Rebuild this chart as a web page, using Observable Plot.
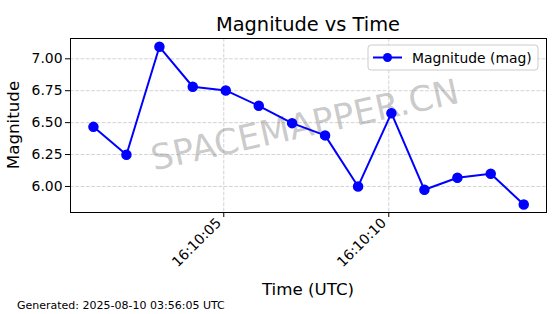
<!DOCTYPE html>
<html><head><meta charset="utf-8">
<script src="https://cdn.jsdelivr.net/npm/d3@7"></script>
<script src="https://cdn.jsdelivr.net/npm/@observablehq/plot@0.6"></script>
<style>body{margin:0;background:#fff}svg{display:block}</style>
</head><body><div id="chart"></div>
<script>
const times = ["2025-08-10T16:10:01.05Z","2025-08-10T16:10:02.05Z","2025-08-10T16:10:03.05Z","2025-08-10T16:10:04.06Z","2025-08-10T16:10:05.06Z","2025-08-10T16:10:06.06Z","2025-08-10T16:10:07.07Z","2025-08-10T16:10:08.07Z","2025-08-10T16:10:09.07Z","2025-08-10T16:10:10.08Z","2025-08-10T16:10:11.08Z","2025-08-10T16:10:12.08Z","2025-08-10T16:10:13.09Z","2025-08-10T16:10:14.09Z"];
const magnitudes = [6.467, 6.248, 7.094, 6.781, 6.752, 6.632, 6.496, 6.400, 6.000, 6.574, 5.974, 6.068, 6.099, 5.859];
const xTicks = ["2025-08-10T16:10:05Z","2025-08-10T16:10:10Z"];
const yTicks = [6.00, 6.25, 6.50, 6.75, 7.00];
const xDomain = ["2025-08-10T16:10:00.355Z","2025-08-10T16:10:14.78Z"];
const yDomain = [5.796, 7.159];
const titleText = "Magnitude vs Time";
const xLabel = "Time (UTC)";
const yLabel = "Magnitude";
const legendLabel = "Magnitude (mag)";
const watermark = "SPACEMAPPER.CN";
const footer = "Generated: 2025-08-10 03:56:05 UTC";

const data = times.map((t, i) => ({time: new Date(t), mag: magnitudes[i]}));
const xTickDates = xTicks.map(d => new Date(d));
const font = "DejaVu Sans";

const chart = Plot.plot({
  width: 560, height: 314,
  marginLeft: 70, marginRight: 14, marginTop: 38, marginBottom: 102,
  style: {fontFamily: font, background: "white", overflow: "visible"},
  x: {type: "utc", domain: xDomain.map(d => new Date(d))},
  y: {domain: yDomain},
  marks: [
    Plot.gridX(xTickDates, {stroke: "#b0b0b0", strokeOpacity: 0.7, strokeDasharray: "3.7,1.6", strokeWidth: 0.8}),
    Plot.gridY(yTicks, {stroke: "#b0b0b0", strokeOpacity: 0.7, strokeDasharray: "3.7,1.6", strokeWidth: 0.8}),
    Plot.text([watermark], {frameAnchor: "top-left", dx: 307 - 70, dy: 136 - 38, rotate: -12.5, fontSize: 35, fill: "gray", fillOpacity: 0.42, lineAnchor: "bottom", textAnchor: "middle"}),
    Plot.line(data, {x: "time", y: "mag", stroke: "#0000ff", strokeWidth: 2}),
    Plot.dot(data, {x: "time", y: "mag", r: 4.5, fill: "#0000ff", stroke: "#0000ff"}),
    Plot.frame({stroke: "black", strokeWidth: 1}),
    Plot.axisY({ticks: yTicks, tickFormat: d3.format(".2f"), tickSize: 5, tickPadding: 3, fontSize: 13.9, color: "black", label: null}),
    Plot.axisX({ticks: xTickDates, tickFormat: () => "", tickSize: 5, color: "black", label: null}),
    Plot.axisX({ticks: xTickDates, tickFormat: d3.utcFormat("%H:%M:%S"), tickSize: 0, tickPadding: 8, tickRotate: -45, textAnchor: "end", dx: -5, fontSize: 13.9, color: "black", label: null})
  ]
});
document.getElementById("chart").appendChild(chart);

const svg = d3.select(chart);
const deco = svg.append("g").attr("font-family", font).attr("text-anchor", "start").attr("fill", "black").attr("stroke", "none");
deco.append("text").attr("x", 308).attr("y", 31).attr("text-anchor", "middle")
  .attr("font-size", 19.4).text(titleText);
deco.append("text").attr("x", 308).attr("y", 295).attr("text-anchor", "middle")
  .attr("font-size", 16.7).text(xLabel);
deco.append("text").attr("transform", "translate(19,125) rotate(-90)").attr("text-anchor", "middle")
  .attr("font-size", 16.7).text(yLabel);
deco.append("text").attr("x", 17).attr("y", 309).attr("font-size", 11).attr("text-anchor", "start")
  .text(footer);

const lg = svg.append("g");
lg.append("rect").attr("x", 368).attr("y", 45).attr("width", 170).attr("height", 25).attr("rx", 3)
  .attr("fill", "white").attr("fill-opacity", 0.8).attr("stroke", "#cccccc").attr("stroke-width", 1);
lg.append("path").attr("d", "M373,57.5H402")
  .attr("fill", "none").attr("stroke", "#0000ff").attr("stroke-width", 2);
lg.append("circle").attr("cx", 387.5).attr("cy", 57.5).attr("r", 4.5).attr("fill", "#0000ff").attr("stroke", "none");
lg.append("text").attr("x", 412).attr("y", 62.5).attr("font-size", 13.9).attr("font-family", font)
  .attr("text-anchor", "start").attr("fill", "black").text(legendLabel);
</script>
</body></html>
